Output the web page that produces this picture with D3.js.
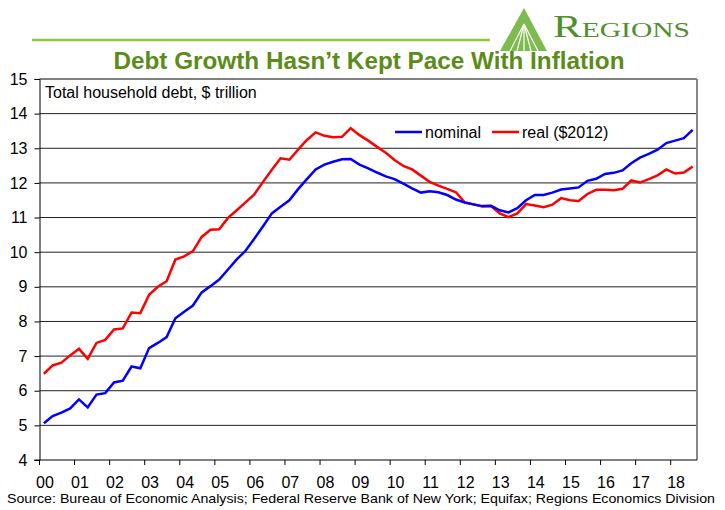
<!DOCTYPE html>
<html>
<head>
<meta charset="utf-8">
<script src="https://cdn.jsdelivr.net/npm/d3@7"></script>
<style>
  body { margin: 0; background: #fff; }
  svg { display: block; font-family: "Liberation Sans", Arial, sans-serif; }
</style>
</head>
<body>
<svg width="725" height="510"></svg>
<script>
// quarterly, 2000Q1 .. 2018Q3
const years = ["00","01","02","03","04","05","06","07","08","09","10","11","12","13","14","15","16","17","18"];
const yTicks = [4,5,6,7,8,9,10,11,12,13,14,15];

const nominal = [5.06,5.27,5.37,5.49,5.75,5.52,5.89,5.93,6.24,6.29,6.70,6.65,7.23,7.38,7.55,8.09,
  8.28,8.46,8.84,9.02,9.21,9.50,9.79,10.04,10.39,10.75,11.12,11.31,11.50,11.82,12.11,12.39,
  12.53,12.61,12.68,12.69,12.53,12.42,12.30,12.19,12.11,11.98,11.84,11.72,11.76,11.73,11.65,11.52,
  11.43,11.38,11.33,11.34,11.21,11.15,11.27,11.50,11.65,11.65,11.72,11.81,11.84,11.87,12.06,12.12,
  12.26,12.29,12.36,12.57,12.73,12.84,12.96,13.15,13.22,13.29,13.53];

const real = [6.49,6.73,6.81,7.02,7.21,6.92,7.38,7.47,7.77,7.80,8.26,8.24,8.77,9.00,9.16,9.79,
  9.88,10.03,10.44,10.65,10.66,10.99,11.21,11.44,11.67,12.03,12.38,12.71,12.67,12.96,13.24,13.46,
  13.36,13.32,13.33,13.58,13.38,13.22,13.04,12.87,12.66,12.49,12.39,12.21,12.03,11.92,11.83,11.73,
  11.44,11.38,11.32,11.33,11.12,11.01,11.12,11.39,11.35,11.30,11.37,11.56,11.50,11.48,11.68,11.80,
  11.80,11.79,11.83,12.07,12.01,12.11,12.22,12.39,12.27,12.30,12.47];

const svg = d3.select("svg");
const pLeft = 39.5, pRight = 697, pTop = 79, pBottom = 460;

const quarters = d3.range(nominal.length);
const x = d3.scaleBand().domain(quarters).range([pLeft, pRight]);
const y = d3.scaleLinear().domain([4, 15]).range([pBottom, pTop]);

// header: rule + logo
svg.append("line")
  .attr("x1", 32).attr("x2", 490).attr("y1", 40).attr("y2", 40)
  .attr("stroke", "#8dc63f").attr("stroke-width", 2.5);

let logo = svg.append("g").attr("transform", "translate(500,8)");
logo.append("path").attr("d", "M24,0 L47,43 L0,43 Z").attr("fill", "#7dbb4e");
[[-14, 43], [-7, 43], [0, 43], [7, 43], [14, 43]].forEach(p => {
  logo.append("line")
    .attr("x1", 24).attr("y1", 16).attr("x2", 24 + p[0]).attr("y2", p[1])
    .attr("stroke", "#fff").attr("stroke-width", 1.2);
});
svg.append("text")
  .attr("x", 553).attr("y", 37)
  .attr("font-family", "Liberation Serif, serif")
  .attr("font-size", 32)
  .attr("font-variant", "small-caps")
  .attr("fill", "#4f8f2c")
  .attr("textLength", 137)
  .attr("lengthAdjust", "spacingAndGlyphs")
  .text("Regions");

svg.append("text")
  .attr("x", 369).attr("y", 69)
  .attr("text-anchor", "middle")
  .attr("font-size", 24).attr("font-weight", "bold")
  .attr("fill", "#5b8c1a")
  .attr("textLength", 511)
  .attr("lengthAdjust", "spacingAndGlyphs")
  .text("Debt Growth Hasn\u2019t Kept Pace With Inflation");

// grid
svg.append("g")
  .selectAll("line")
  .data(yTicks.filter(d => d > 4 && d < 15))
  .enter()
  .append("line")
  .attr("x1", pLeft).attr("x2", pRight)
  .attr("y1", d => y(d)).attr("y2", d => y(d))
  .attr("stroke", "#222").attr("stroke-width", 1);

// frame
svg.append("line").attr("x1", pLeft).attr("x2", pRight).attr("y1", pTop).attr("y2", pTop)
  .attr("stroke", "#000");
svg.append("line").attr("x1", pRight).attr("x2", pRight).attr("y1", pTop).attr("y2", pBottom)
  .attr("stroke", "#888").attr("stroke-width", 2);

// y axis
let yAxis = svg.append("g")
  .attr("transform", "translate(" + pLeft + ",0)")
  .call(d3.axisLeft(y).tickValues(yTicks).tickSize(5).tickPadding(7));
yAxis.select(".domain").attr("stroke", "#000");
yAxis.selectAll("text").attr("font-size", 16).attr("fill", "#000")
  .attr("font-family", "Liberation Sans, Arial, sans-serif");

// x axis: ticks at year boundaries, labels on first quarter
let tickPos = years.map((yr, i) => x(i * 4));
svg.append("line").attr("x1", pLeft - 5).attr("x2", pRight).attr("y1", pBottom).attr("y2", pBottom)
  .attr("stroke", "#000");
svg.append("g")
  .selectAll("line")
  .data(tickPos)
  .enter()
  .append("line")
  .attr("x1", d => d).attr("x2", d => d)
  .attr("y1", pBottom).attr("y2", pBottom + 5)
  .attr("stroke", "#000");
svg.append("g")
  .selectAll("text")
  .data(years)
  .enter()
  .append("text")
  .attr("x", (d, i) => x(i * 4) + x.bandwidth() / 2 + 1)
  .attr("y", 488)
  .attr("text-anchor", "middle")
  .attr("font-size", 16)
  .text(d => d);

svg.append("text")
  .attr("x", 45).attr("y", 98)
  .attr("font-size", 16)
  .text("Total household debt, $ trillion");

// lines
let line = d3.line()
  .x((d, i) => x(i) + x.bandwidth() / 2)
  .y(d => y(d));

svg.append("path").datum(real)
  .attr("d", line).attr("fill", "none")
  .attr("stroke", "#ff0000").attr("stroke-width", 2.5);
svg.append("path").datum(nominal)
  .attr("d", line).attr("fill", "none")
  .attr("stroke", "#0000ff").attr("stroke-width", 2.5);

// legend
let legend = [["nominal", "#0000ff", 395], ["real ($2012)", "#ff0000", 492]];
legend.forEach(l => {
  svg.append("line")
    .attr("x1", l[2]).attr("x2", l[2] + 27).attr("y1", 132).attr("y2", 132)
    .attr("stroke", l[1]).attr("stroke-width", 2.5);
  svg.append("text")
    .attr("x", l[2] + 30).attr("y", 138)
    .attr("font-size", 16)
    .text(l[0]);
});

svg.append("text")
  .attr("x", 7).attr("y", 503)
  .attr("font-size", 13.6)
  .attr("textLength", 708)
  .attr("lengthAdjust", "spacingAndGlyphs")
  .text("Source: Bureau of Economic Analysis; Federal Reserve Bank of New York; Equifax; Regions Economics Division");
</script>
</body>
</html>
